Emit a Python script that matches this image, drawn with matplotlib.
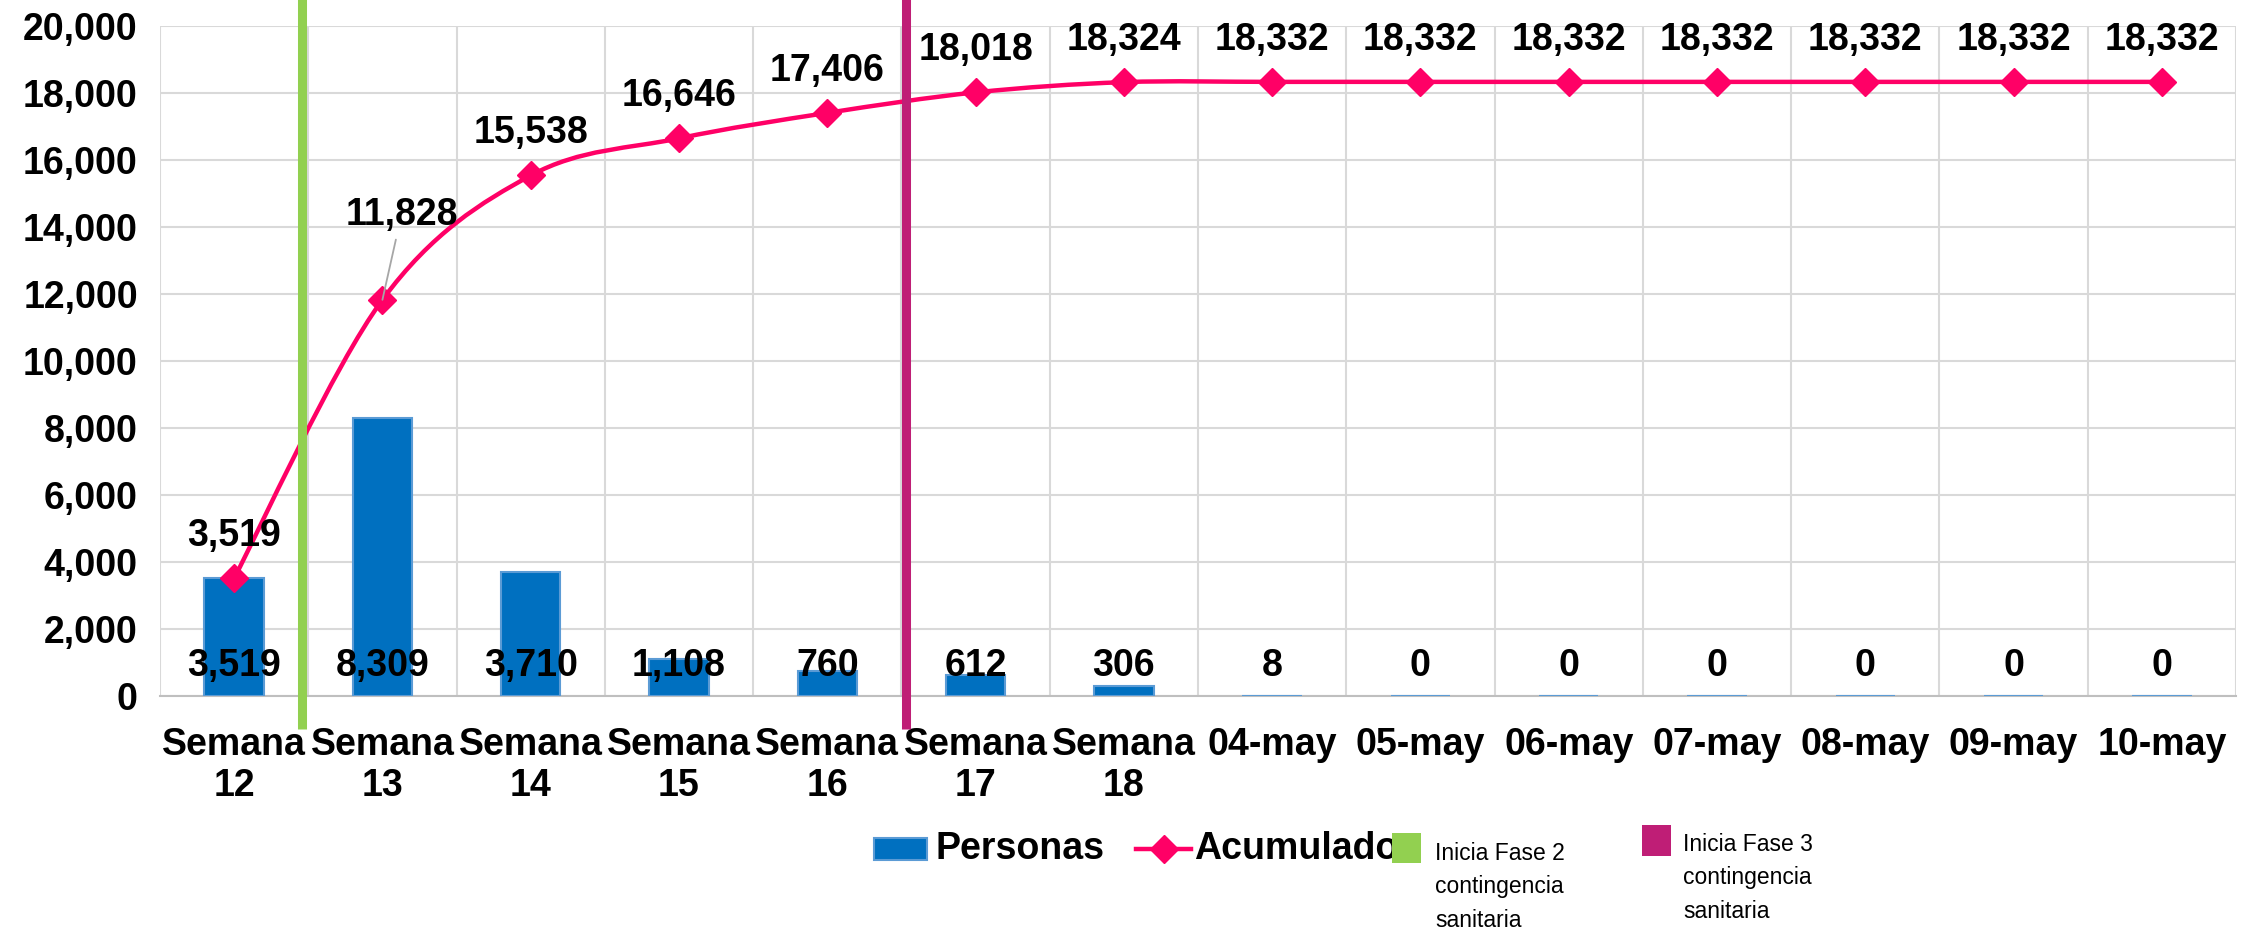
import numpy as np
import matplotlib.pyplot as plt
from matplotlib.path import Path
from matplotlib.patches import PathPatch, Rectangle
from matplotlib.lines import Line2D
from matplotlib.ticker import FuncFormatter, FixedLocator

plt.rcParams['font.family'] = ['Liberation Sans', 'DejaVu Sans']

# Datos
categorias = ['Semana\n12', 'Semana\n13', 'Semana\n14', 'Semana\n15', 'Semana\n16',
              'Semana\n17', 'Semana\n18', '04-may', '05-may', '06-may', '07-may',
              '08-may', '09-may', '10-may']
personas = [3519, 8309, 3710, 1108, 760, 612, 306, 8, 0, 0, 0, 0, 0, 0]
acumulado = [3519, 11828, 15538, 16646, 17406, 18018, 18324, 18332,
             18332, 18332, 18332, 18332, 18332, 18332]
fase2_x = 0.46   # inicio fase 2 (entre semana 12 y 13)
fase3_x = 4.53   # inicio fase 3 (entre semana 16 y 17)

azul = '#0070C0'
rosa = '#FF0066'
verde = '#92D050'
morado = '#BF1E76'
gris = '#D9D9D9'
fs = 27

W, H = 2255, 933
def px(x, y):
    # pixeles -> fraccion de figura
    return x / W, 1 - y / H

fig = plt.figure(figsize=(W / 100, H / 100), dpi=100)
x0, y1 = px(160, 26)
x1, y0 = px(2236, 696)
ax = fig.add_axes([x0, y0, x1 - x0, y1 - y0])

x = np.arange(len(categorias))

# Barras
ax.bar(x, personas, width=0.4, color=azul, edgecolor='#5B9BD5', linewidth=1.5, zorder=3)

# Linea suavizada (bezier tipo Excel)
pts = np.column_stack([x, acumulado]).astype(float)
n = len(pts)
verts = [pts[0]]
codes = [Path.MOVETO]
for i in range(n - 1):
    p_prev = pts[max(i - 1, 0)]
    p0 = pts[i]
    p1 = pts[i + 1]
    p_next = pts[min(i + 2, n - 1)]
    c1 = p0 + (p1 - p_prev) / 6
    c2 = p1 - (p_next - p0) / 6
    verts += [c1, c2, p1]
    codes += [Path.CURVE4] * 3
ax.add_patch(PathPatch(Path(verts, codes), facecolor='none', edgecolor=rosa,
                       linewidth=3.2, zorder=4))
ax.plot(x, acumulado, linestyle='none', marker='D', markersize=14,
        color=rosa, zorder=5)

# Etiquetas de datos
for i, v in enumerate(personas):
    ax.annotate(f'{v:,}', (i, 0), xytext=(0, 30), textcoords='offset pixels',
                ha='center', va='center', fontsize=fs, fontweight='bold', zorder=6)
for i, v in enumerate(acumulado):
    if i == 1:
        ax.annotate(f'{v:,}', (i, v), xytext=(19, 85), textcoords='offset pixels',
                    ha='center', va='center', fontsize=fs, fontweight='bold', zorder=6,
                    arrowprops=dict(arrowstyle='-', color='#A6A6A6', lw=1.3,
                                    shrinkA=3, shrinkB=0))
    else:
        ax.annotate(f'{v:,}', (i, v), xytext=(0, 42), textcoords='offset pixels',
                    ha='center', va='center', fontsize=fs, fontweight='bold', zorder=6)

# Lineas de fase
trans = ax.get_xaxis_transform()
ax.plot([fase2_x, fase2_x], [-0.049, 1.05], color=verde, linewidth=6.5,
        transform=trans, clip_on=False, zorder=7, solid_capstyle='butt')
ax.plot([fase3_x, fase3_x], [-0.049, 1.05], color=morado, linewidth=6.5,
        transform=trans, clip_on=False, zorder=7, solid_capstyle='butt')

# Ejes
ax.set_xlim(-0.5, len(categorias) - 0.5)
ax.set_ylim(0, 20000)
ax.set_yticks(np.arange(0, 20001, 2000))
ax.yaxis.set_major_formatter(FuncFormatter(lambda v, p: f'{int(v):,}'))
ax.set_xticks(x)
ax.set_xticklabels(categorias, linespacing=1.2)
ax.xaxis.set_minor_locator(FixedLocator(np.arange(-0.5, len(categorias), 1)))
ax.tick_params(axis='both', which='both', length=0, labelsize=fs)
ax.tick_params(axis='y', pad=16)
ax.tick_params(axis='x', pad=22)
for lab in ax.get_xticklabels() + ax.get_yticklabels():
    lab.set_fontweight('bold')
ax.grid(axis='y', which='major', color=gris, linewidth=1.5, zorder=0)
ax.grid(axis='x', which='minor', color=gris, linewidth=1.5, zorder=0)
ax.grid(axis='x', which='major', visible=False)
ax.set_axisbelow(True)
for s in ['top', 'right', 'left']:
    ax.spines[s].set_visible(False)
ax.spines['bottom'].set_color('#BFBFBF')
ax.spines['bottom'].set_linewidth(1.5)

# Leyenda
bx, by = px(874, 860)
fig.add_artist(Rectangle((bx, by), 53 / W, 22 / H, transform=fig.transFigure,
                         facecolor=azul, edgecolor='#5B9BD5', linewidth=1.5))
fig.text(*px(935, 849), 'Personas', fontsize=fs, fontweight='bold', va='center')
lx0, ly = px(1136, 849)
lx1, _ = px(1191, 849)
fig.add_artist(Line2D([lx0, (lx0 + lx1) / 2, lx1], [ly, ly, ly], color=rosa, linewidth=3.2,
                      marker='D', markersize=14, markevery=[1], transform=fig.transFigure))
fig.text(*px(1194, 849), 'Acumulado', fontsize=fs, fontweight='bold', va='center')
gx, gy = px(1392, 863)
fig.add_artist(Rectangle((gx, gy), 29 / W, 30 / H, transform=fig.transFigure,
                         facecolor=verde, edgecolor='none', zorder=10))
fig.text(*px(1435, 842), 'Inicia Fase 2\ncontingencia\nsanitaria', fontsize=16.5,
         va='top', linespacing=1.58)
mx, my = px(1642, 856)
fig.add_artist(Rectangle((mx, my), 29 / W, 31 / H, transform=fig.transFigure,
                         facecolor=morado, edgecolor='none', zorder=10))
fig.text(*px(1683, 833), 'Inicia Fase 3\ncontingencia\nsanitaria', fontsize=16.5,
         va='top', linespacing=1.58)

fig.savefig('out.png', dpi=100)
